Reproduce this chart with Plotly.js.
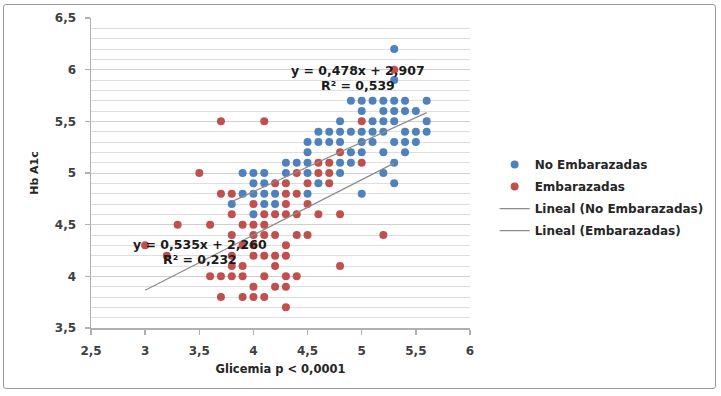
<!DOCTYPE html>
<html>
<head>
<meta charset="utf-8">
<script src="https://cdn.plot.ly/plotly-3.0.1.min.js"></script>
<style>
  html, body { margin: 0; padding: 0; background: #ffffff; }
  #wrap { position: relative; width: 721px; height: 396px; overflow: hidden; }
  #chart { position: absolute; left: 0; top: 0; width: 721px; height: 396px; }
  #frame { position: absolute; left: 3px; top: 4px; width: 711px; height: 383px;
           border: 1.5px solid #9a9a9a; border-radius: 3px; pointer-events: none; }
</style>
</head>
<body>
<div id="wrap">
  <div id="chart"></div>
  <div id="frame"></div>
</div>
<script>
// ---- Data ----
// No Embarazadas (blue)
const noEmbX = [
  5.3,
  5.3,
  4.9, 5.0, 5.1, 5.2, 5.3, 5.4, 5.6,
  5.0, 5.2, 5.3, 5.4, 5.5,
  4.8, 5.1, 5.2, 5.3, 5.6,
  4.6, 4.7, 4.8, 4.9, 5.0, 5.1, 5.2, 5.4, 5.5, 5.6,
  4.5, 4.6, 4.7, 4.8, 5.0, 5.1, 5.3, 5.4, 5.5,
  4.5, 4.9, 5.0, 5.2, 5.4,
  4.3, 4.4, 4.5, 4.8, 4.9, 5.3,
  3.9, 4.0, 4.1, 4.3, 4.5, 4.8, 5.2,
  4.0, 4.1, 4.6, 5.3,
  3.9, 4.0, 4.1, 4.2, 4.5, 5.0,
  3.8, 4.1, 4.2,
  4.0
];
const noEmbY = [
  6.2,
  5.9,
  5.7, 5.7, 5.7, 5.7, 5.7, 5.7, 5.7,
  5.6, 5.6, 5.6, 5.6, 5.6,
  5.5, 5.5, 5.5, 5.5, 5.5,
  5.4, 5.4, 5.4, 5.4, 5.4, 5.4, 5.4, 5.4, 5.4, 5.4,
  5.3, 5.3, 5.3, 5.3, 5.3, 5.3, 5.3, 5.3, 5.3,
  5.2, 5.2, 5.2, 5.2, 5.2,
  5.1, 5.1, 5.1, 5.1, 5.1, 5.1,
  5.0, 5.0, 5.0, 5.0, 5.0, 5.0, 5.0,
  4.9, 4.9, 4.9, 4.9,
  4.8, 4.8, 4.8, 4.8, 4.8, 4.8,
  4.7, 4.7, 4.7,
  4.6
];
// Embarazadas (red)
const embX = [
  5.3,
  3.7, 4.1, 5.0,
  4.8,
  4.6, 4.7, 5.0,
  3.5, 4.4, 4.6, 4.7,
  4.2, 4.3, 4.5, 4.7,
  3.7, 3.8, 4.3, 4.4,
  4.0, 4.3, 4.5,
  3.8, 4.1, 4.2, 4.3, 4.4, 4.6, 4.8,
  3.3, 3.6, 3.9, 4.0, 4.1,
  3.8, 4.0, 4.1, 4.2, 4.4, 4.5, 5.2,
  3.0, 3.9, 4.0, 4.3,
  3.2, 3.8, 4.0, 4.1, 4.2, 4.3,
  3.8, 3.9, 4.2, 4.8,
  3.6, 3.7, 3.8, 3.9, 4.1, 4.3, 4.4,
  4.0, 4.2, 4.3,
  3.7, 3.9, 4.0, 4.1,
  4.3
];
const embY = [
  6.0,
  5.5, 5.5, 5.5,
  5.2,
  5.1, 5.1, 5.1,
  5.0, 5.0, 5.0, 5.0,
  4.9, 4.9, 4.9, 4.9,
  4.8, 4.8, 4.8, 4.8,
  4.7, 4.7, 4.7,
  4.6, 4.6, 4.6, 4.6, 4.6, 4.6, 4.6,
  4.5, 4.5, 4.5, 4.5, 4.5,
  4.4, 4.4, 4.4, 4.4, 4.4, 4.4, 4.4,
  4.3, 4.3, 4.3, 4.3,
  4.2, 4.2, 4.2, 4.2, 4.2, 4.2,
  4.1, 4.1, 4.1, 4.1,
  4.0, 4.0, 4.0, 4.0, 4.0, 4.0, 4.0,
  3.9, 3.9, 3.9,
  3.8, 3.8, 3.8, 3.8,
  3.7
];
// Linear trend coefficients (from the chart labels)
const trendNoEmb = { slope: 0.478, intercept: 2.907, r2: 0.539 };
const trendEmb   = { slope: 0.535, intercept: 2.260, r2: 0.232 };
// Series / axis labels
const seriesNames = ["No Embarazadas", "Embarazadas", "Lineal (No Embarazadas)", "Lineal (Embarazadas)"];
const xTickVals = [2.5, 3, 3.5, 4, 4.5, 5, 5.5, 6];
const xTickText = ["2,5", "3", "3,5", "4", "4,5", "5", "5,5", "6"];
const yTickVals = [3.5, 4, 4.5, 5, 5.5, 6, 6.5];
const yTickText = ["3,5", "4", "4,5", "5", "5,5", "6", "6,5"];
const xTitle = "Glicemia p < 0,0001";
const yTitle = "Hb A1c";

// ---- Build trend lines from data extents ----
function fmt(v) { return v.toFixed(3).replace('.', ','); }
function trendLine(xs, t) {
  const x0 = Math.min.apply(null, xs), x1 = Math.max.apply(null, xs);
  return { x: [x0, x1], y: [t.slope * x0 + t.intercept, t.slope * x1 + t.intercept] };
}
const tl1 = trendLine(noEmbX, trendNoEmb);
const tl2 = trendLine(embX, trendEmb);

const FONT = "DejaVu Sans, Verdana, sans-serif";
const BLUE = "#4F81BD", RED = "#C0504D", GRAY = "#8c8c8c";

const traces = [
  { type: "scatter", mode: "markers", x: noEmbX, y: noEmbY, name: seriesNames[0],
    legendgroup: "a", marker: { color: BLUE, size: 8, line: { width: 0 } } },
  { type: "scatter", mode: "markers", x: embX, y: embY, name: seriesNames[1],
    legendgroup: "b", marker: { color: RED, size: 8, line: { width: 0 } } },
  { type: "scatter", mode: "lines", x: tl1.x, y: tl1.y, name: seriesNames[2],
    legendgroup: "c", line: { color: GRAY, width: 1.2 } },
  { type: "scatter", mode: "lines", x: tl2.x, y: tl2.y, name: seriesNames[3],
    legendgroup: "d", line: { color: GRAY, width: 1.2 } }
];

const tickFont = { family: FONT, size: 12, color: "#404040", weight: "bold" };
const annFont = { family: FONT, size: 12.5, color: "#1a1a1a", weight: "bold" };

const layout = {
  width: 721, height: 396,
  margin: { l: 91, r: 249, t: 18, b: 68 },
  paper_bgcolor: "#ffffff", plot_bgcolor: "#ffffff",
  showlegend: true,
  legend: {
    x: 1.065, y: 0.574, xanchor: "left", yanchor: "top",
    font: { family: FONT, size: 12, color: "#262626", weight: "bold" },
    traceorder: "grouped", tracegroupgap: 3,
    bgcolor: "rgba(0,0,0,0)", borderwidth: 0
  },
  xaxis: {
    range: [2.5, 6], tickmode: "array", tickvals: xTickVals, ticktext: xTickText,
    showgrid: false, zeroline: false,
    showline: true, linecolor: "#b0b0b0", linewidth: 1.5,
    ticks: "outside", ticklen: 5, tickcolor: "#b0b0b0", tickwidth: 1.5,
    ticklabelstandoff: 6,
    tickfont: tickFont,
    title: { text: xTitle, font: { family: FONT, size: 11.5, color: "#262626", weight: "bold" }, standoff: 8 },
    fixedrange: true
  },
  yaxis: {
    range: [3.5, 6.5], tickmode: "array", tickvals: yTickVals, ticktext: yTickText,
    showgrid: true, gridcolor: "#cfcfcf", gridwidth: 1,
    minor: { dtick: 0.1, tick0: 3.5, showgrid: true, gridcolor: "#dedede", gridwidth: 1, ticks: "" },
    zeroline: false,
    showline: true, linecolor: "#b0b0b0", linewidth: 1.5,
    ticks: "outside", ticklen: 5, tickcolor: "#b0b0b0", tickwidth: 1.5,
    ticklabelstandoff: 6,
    tickfont: tickFont,
    title: { text: yTitle, font: { family: FONT, size: 11, color: "#262626", weight: "bold" }, standoff: 14 },
    fixedrange: true
  },
  annotations: [
    { xref: "x", yref: "y", x: 4.968, y: 5.992, showarrow: false,
      text: "y = " + fmt(trendNoEmb.slope) + "x + " + fmt(trendNoEmb.intercept), font: annFont },
    { xref: "x", yref: "y", x: 4.968, y: 5.847, showarrow: false,
      text: "R² = " + fmt(trendNoEmb.r2), font: annFont },
    { xref: "x", yref: "y", x: 3.504, y: 4.31, showarrow: false,
      text: "y = " + fmt(trendEmb.slope) + "x + " + fmt(trendEmb.intercept), font: annFont },
    { xref: "x", yref: "y", x: 3.504, y: 4.164, showarrow: false,
      text: "R² = " + fmt(trendEmb.r2), font: annFont }
  ]
};

Plotly.newPlot("chart", traces, layout, { staticPlot: true, displayModeBar: false });
</script>
</body>
</html>
